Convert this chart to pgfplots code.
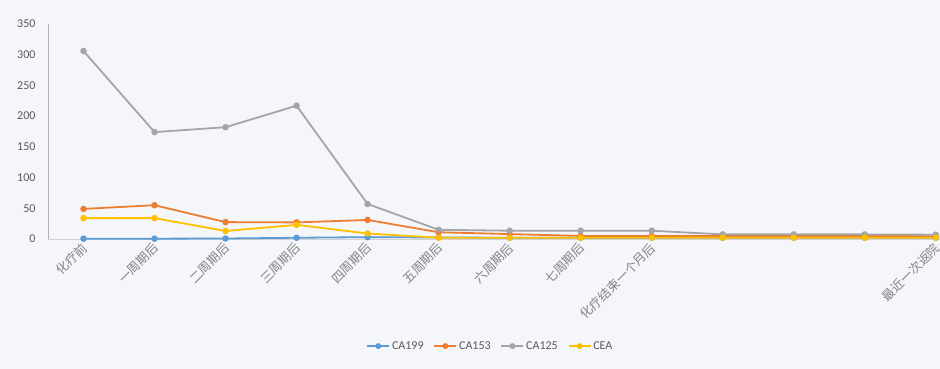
\documentclass[border=0pt]{standalone}
\usepackage{pgfplots}
\pgfplotsset{compat=1.18}
\usepackage{fontspec}
\setmainfont{Carlito}
\newfontfamily\cjk{Noto Sans CJK SC}
\definecolor{bg}{HTML}{F5F6FA}
\definecolor{cblue}{HTML}{5B9BD5}
\definecolor{corange}{HTML}{ED7D31}
\definecolor{cgray}{HTML}{A5A5A5}
\definecolor{cgold}{HTML}{FFC000}
\definecolor{txt}{HTML}{595959}
\begin{document}
\begin{tikzpicture}[x=1pt,y=1pt]
\fill[bg] (0,0) rectangle (940,369);
\begin{axis}[
  at={(48pt,130pt)}, anchor=south west,
  scale only axis, width=892pt, height=215pt,
  xmin=-0.5, xmax=12.06, ymin=0, ymax=350,
  ytick={0,50,...,350},
  xtick={0,...,12},
  xticklabels={化疗前,一周期后,二周期后,三周期后,四周期后,五周期后,六周期后,七周期后,化疗结束一个月后,,,,最近一次返院},
  x tick label style={rotate=45, anchor=east, font=\cjk\fontsize{12.5}{13}\selectfont, text=txt!75, yshift=-6pt, xshift=-3.5pt, inner sep=0pt},
  y tick label style={font=\fontsize{12}{13}\selectfont, text=txt, xshift=-9pt},
  /pgf/number format/assume math mode=true,
  major tick length=0pt,
  axis x line*=bottom, axis y line*=left,
  x axis line style={draw=gray!35, -}, y axis line style={draw=gray!60, -},
  axis background/.style={fill=bg},
  clip=false,
  every axis plot/.append style={line width=1.8pt, mark=*, mark size=2.3pt},
  legend style={at={(0.496,-0.498)}, anchor=center, draw=none, fill=none, legend columns=4,
    font=\fontsize{12}{13}\selectfont, text=txt, /tikz/every even column/.append style={column sep=8pt}},
  legend image code/.code={\draw[#1, line width=1.5pt] (0pt,0pt) -- (22pt,0pt); \fill[#1] (11pt,0pt) circle (2pt);},
]
\addplot[color=cblue] coordinates {(0,0.5)(1,0.5)(2,0.8)(3,2)(4,3)(5,2.5)(6,2)(7,2)(8,2)(9,2)(10,2)(11,2)(12,2)};
\addplot[color=corange] coordinates {(0,49)(1,55)(2,27.5)(3,27)(4,31)(5,11)(6,8)(7,5)(8,5)(9,5)(10,5)(11,5)(12,4.5)};
\addplot[color=cgray] coordinates {(0,306)(1,174)(2,182)(3,217)(4,57)(5,15)(6,13.5)(7,13.5)(8,13.5)(9,7.5)(10,7.5)(11,7.5)(12,7)};
\addplot[color=cgold] coordinates {(0,34)(1,34)(2,13)(3,23)(4,9)(5,2)(6,2)(7,2)(8,2)(9,2)(10,2)(11,2)(12,2)};
\legend{CA199,CA153,CA125,CEA}
\end{axis}
\pgfresetboundingbox
\useasboundingbox (0,0) rectangle (940,369);
\end{tikzpicture}
\end{document}
